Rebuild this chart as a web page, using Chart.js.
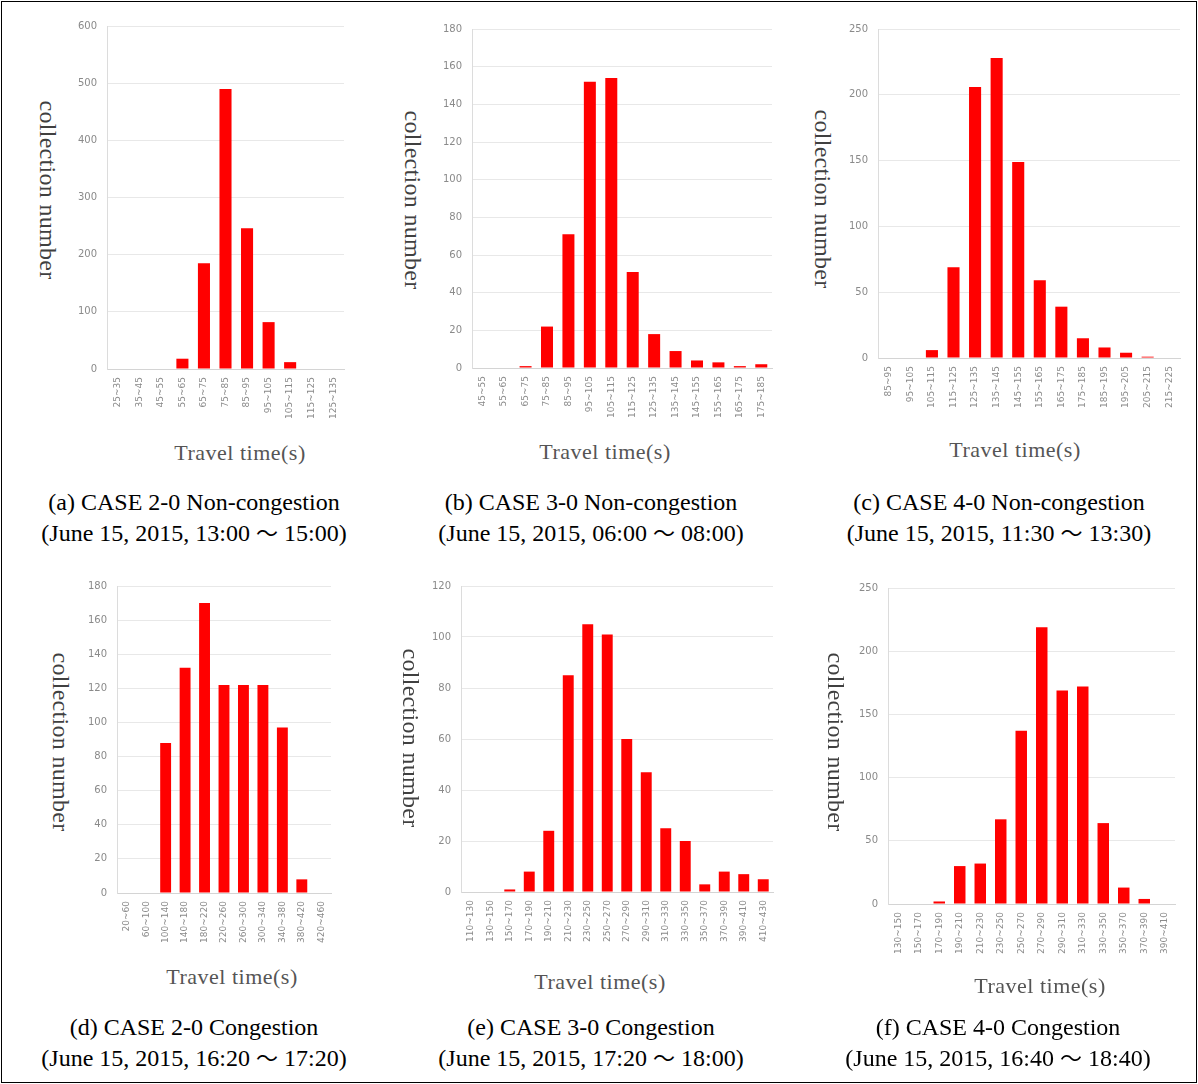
<!DOCTYPE html>
<html>
<head>
<meta charset="utf-8">
<script src="https://cdn.jsdelivr.net/npm/chart.js@4.4.1/dist/chart.umd.min.js"></script>
<style>
  body { margin: 0; background: #fff; width: 1198px; height: 1084px; position: relative; overflow: hidden; }
  #frame { position: absolute; left: 1px; top: 1px; width: 1194px; height: 1080px; border: 1px solid #000; }
  .box { position: absolute; }
  .ytitle { position: absolute; writing-mode: vertical-rl; font: 24px "Liberation Serif", serif; letter-spacing: 0.3px; color: #404040; transform: translate(-50%, -50%); white-space: nowrap; }
  .xtitle { position: absolute; font: 22px "Liberation Serif", serif; letter-spacing: 0.5px; color: #555; transform: translate(-50%, -50%); white-space: nowrap; }
  .caption { position: absolute; font-size: 24px; font-family: "Liberation Serif", serif; color: #000; line-height: 31px; text-align: center; transform: translateX(-50%); white-space: nowrap; }
  .caption .tl { font-family: "Noto Sans CJK JP"; font-size: 22px; line-height: 10px; margin: 0 6px; }
</style>
</head>
<body>
<div id="frame"></div>
<script>
// categories (travel time bins) and counts for each panel
var binsA = ['25~35','35~45','45~55','55~65','65~75','75~85','85~95','95~105','105~115','115~125','125~135'];
var valsA = [0, 0, 0, 18, 185, 490, 246, 82, 12, 0, 0];

var binsB = ['45~55','55~65','65~75','75~85','85~95','95~105','105~115','115~125','125~135','135~145','145~155','155~165','165~175','175~185'];
var valsB = [0, 0, 1, 22, 71, 152, 154, 51, 18, 9, 4, 3, 1, 2];

var binsC = ['85~95','95~105','105~115','115~125','125~135','135~145','145~155','155~165','165~175','175~185','185~195','195~205','205~215','215~225'];
var valsC = [0, 0, 6, 69, 206, 228, 149, 59, 39, 15, 8, 4, 1, 0];

var binsD = ['20~60','60~100','100~140','140~180','180~220','220~260','260~300','300~340','340~380','380~420','420~460'];
var valsD = [0, 0, 88, 132, 170, 122, 122, 122, 97, 8, 0];

var binsE = ['110~130','130~150','150~170','170~190','190~210','210~230','230~250','250~270','270~290','290~310','310~330','330~350','350~370','370~390','390~410','410~430'];
var valsE = [0, 0, 1, 8, 24, 85, 105, 101, 60, 47, 25, 20, 3, 8, 7, 5];

var binsF = ['130~150','150~170','170~190','190~210','210~230','230~250','250~270','270~290','290~310','310~330','330~350','350~370','370~390','390~410'];
var valsF = [0, 0, 2, 30, 32, 67, 137, 219, 169, 172, 64, 13, 4, 0];

// y axis max / step
var yMax  = [600, 180, 250, 180, 120, 250];
var yStep = [100, 20, 50, 20, 20, 50];

var captions = [
  ['(a) CASE 2-0 Non-congestion', '(June 15, 2015, 13:00～15:00)'],
  ['(b) CASE 3-0 Non-congestion', '(June 15, 2015, 06:00～08:00)'],
  ['(c) CASE 4-0 Non-congestion', '(June 15, 2015, 11:30～13:30)'],
  ['(d) CASE 2-0 Congestion', '(June 15, 2015, 16:20～17:20)'],
  ['(e) CASE 3-0 Congestion', '(June 15, 2015, 17:20～18:00)'],
  ['(f) CASE 4-0 Congestion', '(June 15, 2015, 16:40～18:40)']
];

// plot area [left, right, top, bottom], y title [x,y], x title [x,y], caption [x,y]
var panels = [
  { plot: [107, 344, 20, 369],  yt: [47, 190],  xt: [240, 453],  cap: [194, 487] },
  { plot: [472, 772, 23, 368],  yt: [412, 200], xt: [605, 452],  cap: [591, 487] },
  { plot: [878, 1180, 23, 358], yt: [822, 199], xt: [1015, 450], cap: [999, 487] },
  { plot: [117, 331, 580, 893], yt: [60, 742],  xt: [232, 977],  cap: [194, 1012] },
  { plot: [461, 773, 580, 892], yt: [410, 738], xt: [600, 982],  cap: [591, 1012] },
  { plot: [888, 1175, 582, 904], yt: [835, 742], xt: [1040, 986], cap: [998, 1012] }
];

var allBins = [binsA, binsB, binsC, binsD, binsE, binsF];
var allVals = [valsA, valsB, valsC, valsD, valsE, valsF];

var Y_W = 40, PAD_T = 10, PAD_R = 10, X_H = 70;

function addText(cls, txt, x, y) {
  var d = document.createElement('div');
  d.className = cls;
  d.style.left = x + 'px';
  d.style.top = y + 'px';
  d.innerHTML = txt;
  document.body.appendChild(d);
}

panels.forEach(function (p, i) {
  var l = p.plot[0], r = p.plot[1], t = p.plot[2], b = p.plot[3];
  var box = document.createElement('div');
  box.className = 'box';
  box.style.left = (l - Y_W) + 'px';
  box.style.top = (t - PAD_T) + 'px';
  box.style.width = (r - l + Y_W + PAD_R) + 'px';
  box.style.height = (b - t + PAD_T + X_H) + 'px';
  var cv = document.createElement('canvas');
  box.appendChild(cv);
  document.body.appendChild(box);

  addText('ytitle', 'collection number', p.yt[0], p.yt[1]);
  addText('xtitle', 'Travel time(s)', p.xt[0], p.xt[1]);
  var line2 = captions[i][1].replace('～', '<span class="tl">～</span>');
  addText('caption', captions[i][0] + '<br>' + line2, p.cap[0], p.cap[1]);

  new Chart(cv, {
    type: 'bar',
    data: {
      labels: allBins[i],
      datasets: [{
        data: allVals[i],
        backgroundColor: '#ff0000',
        borderWidth: 0,
        barPercentage: 0.56,
        categoryPercentage: 1.0
      }]
    },
    options: {
      responsive: true, maintainAspectRatio: false,
      animation: false,
      layout: { padding: { top: PAD_T, right: PAD_R, left: 0, bottom: 0 } },
      plugins: { legend: { display: false }, tooltip: { enabled: false } },
      scales: {
        x: {
          grid: { display: false, drawTicks: false },
          border: { color: '#d4d4d4' },
          ticks: {
            autoSkip: false, maxRotation: 90, minRotation: 90, padding: 8,
            color: '#8a8a8a', font: { family: 'DejaVu Sans', size: 9 }
          },
          afterFit: function (s) { s.height = X_H; }
        },
        y: {
          min: 0, max: yMax[i],
          grid: { color: '#e8e8e8', drawTicks: false },
          border: { color: '#dcdcdc' },
          ticks: {
            stepSize: yStep[i], padding: 10,
            color: '#8a8a8a', font: { family: 'DejaVu Sans', size: 10 }
          },
          afterFit: function (s) { s.width = Y_W; }
        }
      }
    }
  });
});
</script>
</body>
</html>
